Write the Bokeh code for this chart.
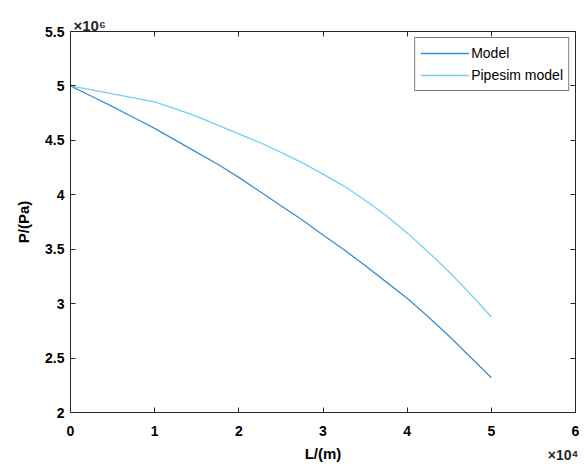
from bokeh.plotting import figure
from bokeh.models import Range1d, FixedTicker, LinearAxis, Title, Legend, LegendItem
from bokeh.embed import file_html
from bokeh.resources import INLINE

# L in units of 1e4 m, P in units of 1e6 Pa
L = [0, 0.25, 0.5, 0.75, 1, 1.25, 1.5, 1.75, 2, 2.25, 2.5, 2.75, 3,
     3.25, 3.5, 3.75, 4, 4.25, 4.5, 4.75, 5]
model = [5.00, 4.905, 4.81, 4.71, 4.61, 4.50, 4.39, 4.28, 4.16, 4.03, 3.90,
         3.77, 3.63, 3.495, 3.35, 3.20, 3.05, 2.88, 2.70, 2.51, 2.32]
pipesim = [5.00, 4.963, 4.926, 4.89, 4.853, 4.79, 4.72, 4.64, 4.56, 4.48, 4.39,
           4.295, 4.19, 4.08, 3.95, 3.81, 3.65, 3.475, 3.29, 3.09, 2.88]
x_ticks = [0, 1, 2, 3, 4, 5, 6]
y_ticks = [2, 2.5, 3, 3.5, 4, 4.5, 5, 5.5]
x_tick_labels = ["0", "1", "2", "3", "4", "5", "6"]
y_tick_labels = ["2", "2.5", "3", "3.5", "4", "4.5", "5", "5.5"]

FONT = "Liberation Sans"
AX = "#262626"

p = figure(width=586, height=464, output_backend="svg", toolbar_location=None,
           x_range=Range1d(0, 6), y_range=Range1d(2, 5.5),
           min_border_left=70, min_border_right=11, min_border_top=31, min_border_bottom=51)
p.xgrid.visible = False
p.ygrid.visible = False
p.outline_line_color = AX
p.outline_line_width = 1
p.background_fill_color = "white"
p.border_fill_color = "white"

r1 = p.line(L, model, line_color="#3B8ED0", line_width=1.3)
r2 = p.line(L, pipesim, line_color="#78CDF2", line_width=1.3)

def style(ax, labels=True):
    ax.axis_line_color = AX
    ax.major_tick_line_color = AX
    ax.major_tick_in = 5
    ax.major_tick_out = 0
    ax.minor_tick_line_color = None
    ax.major_label_text_font = FONT
    ax.major_label_text_font_style = "bold"
    ax.major_label_text_font_size = "14px"
    ax.major_label_text_color = "black"
    ax.axis_label_text_font = FONT
    ax.axis_label_text_font_style = "bold"
    ax.axis_label_text_font_size = "15px"
    ax.axis_label_text_color = "black"
    if not labels:
        ax.major_label_text_font_size = "0px"
        ax.major_label_text_color = None

xa = p.xaxis[0]
xa.ticker = FixedTicker(ticks=x_ticks)
xa.major_label_overrides = {t: s for t, s in zip(x_ticks, x_tick_labels)}
xa.axis_label = "L/(m)"
xa.major_label_standoff = 13
xa.axis_label_standoff = 6
style(xa)

ya = p.yaxis[0]
ya.ticker = FixedTicker(ticks=y_ticks)
ya.major_label_overrides = {t: s for t, s in zip(y_ticks, y_tick_labels)}
ya.axis_label = "P/(Pa)"
ya.major_label_standoff = 6
ya.axis_label_standoff = 10
style(ya)

top = LinearAxis(ticker=FixedTicker(ticks=x_ticks))
style(top, labels=False)
top.major_label_standoff = 0
p.add_layout(top, "above")
right = LinearAxis(ticker=FixedTicker(ticks=y_ticks))
style(right, labels=False)
right.major_label_standoff = 0
p.add_layout(right, "right")

# scale-factor notes
p.title.text = "×10⁶"
p.title.align = "left"
p.title.offset = 3
p.title.standoff = -5
p.title.text_font = FONT
p.title.text_font_style = "bold"
p.title.text_font_size = "15px"
p.title.text_color = AX

xnote = Title(text="×10⁴", align="right", vertical_align="top", offset=-3, standoff=-35,
              text_font=FONT, text_font_style="bold", text_font_size="14px",
              text_color=AX)
p.add_layout(xnote, "below")

legend = Legend(items=[LegendItem(label="Model", renderers=[r1]),
                       LegendItem(label="Pipesim model", renderers=[r2])],
                location="top_right", margin=6, padding=5, spacing=2,
                glyph_width=49, glyph_height=20, label_height=20, label_standoff=2,
                label_text_font=FONT, label_text_font_size="14px", label_text_color="black",
                border_line_color="black", border_line_width=1,
                background_fill_color="white", background_fill_alpha=1)
p.add_layout(legend, "center")

open("out.html", "w").write(file_html(p, INLINE))
